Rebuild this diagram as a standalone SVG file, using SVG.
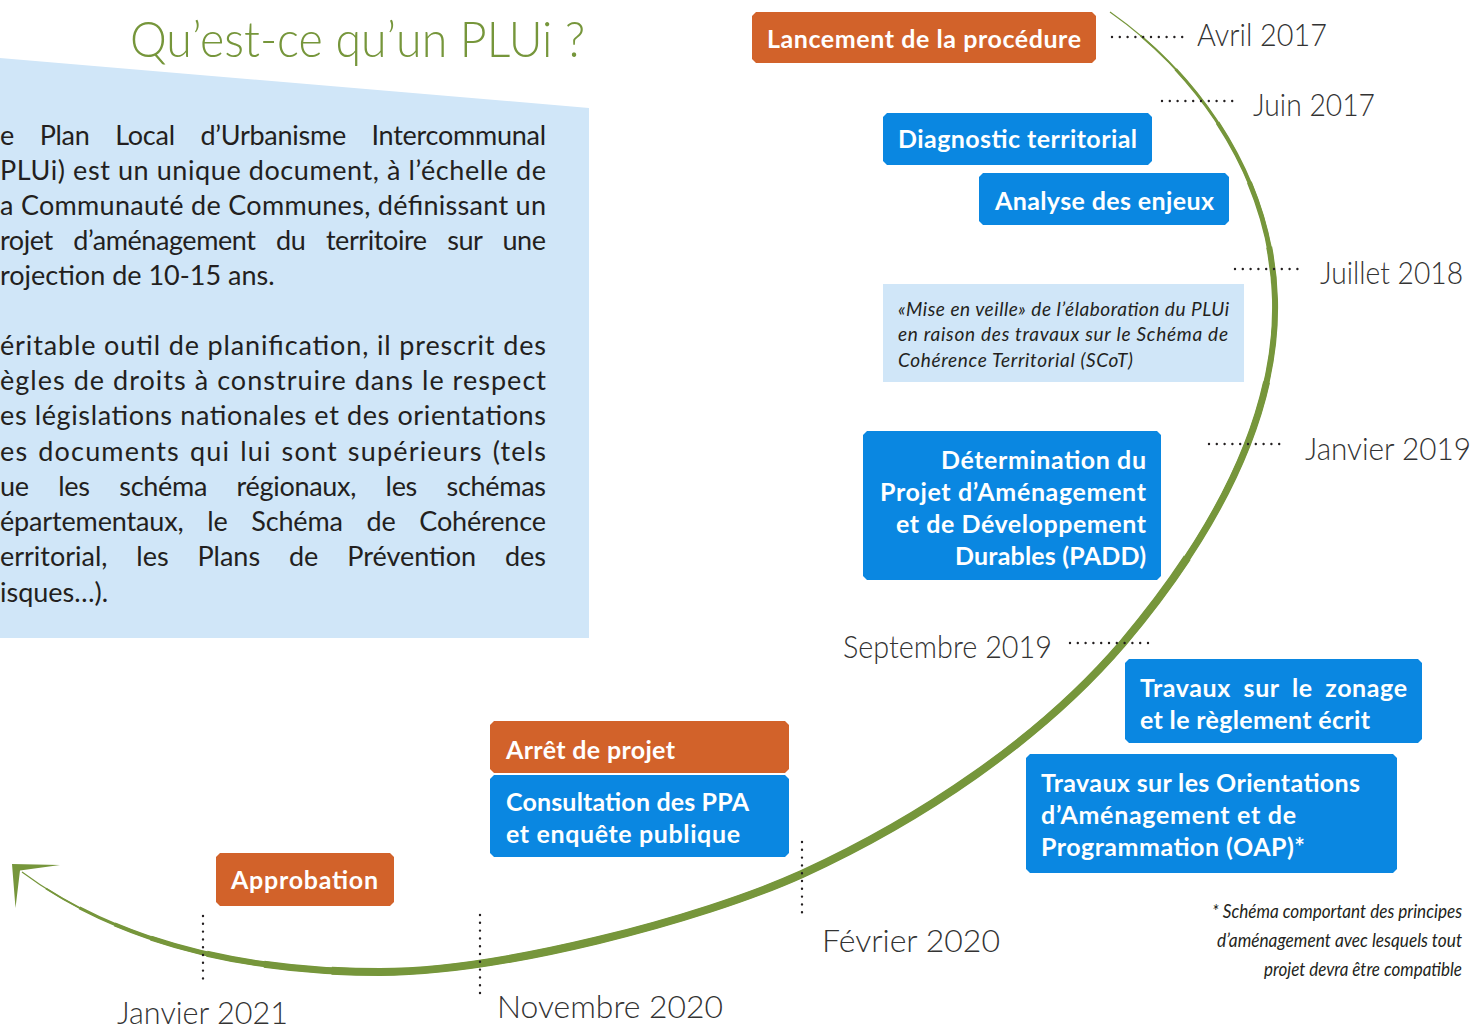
<svg xmlns="http://www.w3.org/2000/svg" width="1475" height="1026" viewBox="0 0 1475 1026">
<style>
.orange{fill:#D2622A}
.blue{fill:#0A87E1}
.pale{fill:#D0E6F8}
.lbl{font-family:Lato,"Open Sans",sans-serif;font-weight:700;font-size:25px;fill:#FFFFFF}
.body{font-family:Lato,"Liberation Sans",sans-serif;font-size:27px;fill:#231F20}
.ital{font-family:Lato,"Liberation Sans",sans-serif;font-style:italic;font-size:19px;fill:#231F20}
.note{font-family:Lato,"Liberation Sans",sans-serif;font-style:italic;font-size:20px;fill:#231F20}
.date{font-family:Lato,"Noto Sans",sans-serif;font-weight:300;font-size:31px;fill:#333333}
.title{font-family:Lato,"Noto Sans",sans-serif;font-weight:300;font-size:50px;fill:#76963B}
.dots{fill:none;stroke:#231F20;stroke-width:2.4;stroke-linecap:round;stroke-dasharray:0 7.8}
.curve{fill:none;stroke:#76963B;stroke-linecap:butt}
</style>
<defs>
<path id="arc" pathLength="1000" d="M1110,12 C1200,75 1272,180 1275,300 C1278,420 1210,540 1123,643 C1040,740 920,820 802,874 C700,920 500,972 380,972 C250,972 120,945 22,872"/>
</defs>

<g id="intro">
<polygon class="pale" points="0,58 589,108 589,638 0,638"/>
<text class="title" x="130" y="57" textLength="455" lengthAdjust="spacingAndGlyphs">Qu’est-ce qu’un PLUi ?</text>
<text class="body" x="0" y="145" textLength="546" lengthAdjust="spacing" word-spacing="19">e Plan Local d’Urbanisme Intercommunal</text>
<text class="body" x="0" y="180" textLength="546" lengthAdjust="spacing">PLUi) est un unique document, à l’échelle de</text>
<text class="body" x="0" y="215" textLength="546" lengthAdjust="spacing">a Communauté de Communes, définissant un</text>
<text class="body" x="0" y="250" textLength="546" lengthAdjust="spacing" word-spacing="14">rojet d’aménagement du territoire sur une</text>
<text class="body" x="0" y="285">rojection de 10-15 ans.</text>
<text class="body" x="0" y="355" textLength="546" lengthAdjust="spacing">éritable outil de planification, il prescrit des</text>
<text class="body" x="0" y="390" textLength="546" lengthAdjust="spacing">ègles de droits à construire dans le respect</text>
<text class="body" x="0" y="425" textLength="546" lengthAdjust="spacing">es législations nationales et des orientations</text>
<text class="body" x="0" y="461" textLength="546" lengthAdjust="spacing" word-spacing="2">es documents qui lui sont supérieurs (tels</text>
<text class="body" x="0" y="496" textLength="546" lengthAdjust="spacing" word-spacing="23">ue les schéma régionaux, les schémas</text>
<text class="body" x="0" y="531" textLength="546" lengthAdjust="spacing" word-spacing="17">épartementaux, le Schéma de Cohérence</text>
<text class="body" x="0" y="566" textLength="546" lengthAdjust="spacing" word-spacing="22">erritorial, les Plans de Prévention des</text>
<text class="body" x="0" y="602">isques…).</text>
</g>

<g id="connectors">
<use href="#arc" class="curve" stroke-width="1.2"/>
<use href="#arc" class="curve" stroke-width="2" stroke-dasharray="0 20 965 2000"/>
<use href="#arc" class="curve" stroke-width="3" stroke-dasharray="0 45 920 2000"/>
<use href="#arc" class="curve" stroke-width="4" stroke-dasharray="0 80 865 2000"/>
<use href="#arc" class="curve" stroke-width="5" stroke-dasharray="0 115 810 2000"/>
<use href="#arc" class="curve" stroke-width="6" stroke-dasharray="0 150 745 2000"/>
<use href="#arc" class="curve" stroke-width="7" stroke-dasharray="0 220 645 2000"/>
<use href="#arc" class="curve" stroke-width="8" stroke-dasharray="0 320 510 2000"/>
<path d="M12,864 L60,865 L20,870.5 L15.5,908 Z" fill="#76963B"/>
<line class="dots" x1="1112" y1="37" x2="1183" y2="37"/>
<line class="dots" x1="1162" y1="101" x2="1235" y2="101"/>
<line class="dots" x1="1235" y1="269" x2="1305" y2="269"/>
<line class="dots" x1="1209" y1="444" x2="1280" y2="444"/>
<line class="dots" x1="1070" y1="643" x2="1153" y2="643"/>
<line class="dots" x1="802" y1="842" x2="802" y2="920"/>
<line class="dots" x1="480" y1="915" x2="480" y2="997"/>
<line class="dots" x1="203" y1="916" x2="203" y2="986"/>
</g>

<g id="dates">
<text class="date" x="1197" y="46" textLength="130" lengthAdjust="spacingAndGlyphs">Avril 2017</text>
<text class="date" x="1253" y="116" textLength="122" lengthAdjust="spacingAndGlyphs">Juin 2017</text>
<text class="date" x="1320" y="284" textLength="143" lengthAdjust="spacingAndGlyphs">Juillet 2018</text>
<text class="date" x="1305" y="460" textLength="166" lengthAdjust="spacingAndGlyphs">Janvier 2019</text>
<text class="date" x="843" y="658" textLength="209" lengthAdjust="spacingAndGlyphs">Septembre 2019</text>
<text class="date" x="822" y="952" textLength="178" lengthAdjust="spacingAndGlyphs">Février 2020</text>
<text class="date" x="497" y="1018" textLength="226" lengthAdjust="spacingAndGlyphs">Novembre 2020</text>
<text class="date" x="117" y="1024" textLength="171" lengthAdjust="spacingAndGlyphs">Janvier 2021</text>
</g>

<g id="lancement">
<polygon class="orange" points="756,12 1092,12 1096,16 1096,59 1092,63 756,63 752,59 752,16"/>
<text class="lbl" x="767" y="48" textLength="314" lengthAdjust="spacing">Lancement de la procédure</text>
</g>
<g id="diagnostic">
<polygon class="blue" points="887,113 1148,113 1152,117 1152,161 1148,165 887,165 883,161 883,117"/>
<text class="lbl" x="898" y="148" textLength="239" lengthAdjust="spacing">Diagnostic territorial</text>
</g>
<g id="enjeux">
<polygon class="blue" points="983,173 1225,173 1229,177 1229,221 1225,225 983,225 979,221 979,177"/>
<text class="lbl" x="995" y="210" textLength="219" lengthAdjust="spacing">Analyse des enjeux</text>
</g>
<g id="veille">
<rect class="pale" x="883" y="284" width="361" height="98"/>
<text class="ital" x="898" y="316" textLength="331" lengthAdjust="spacing">«Mise en veille» de l’élaboration du PLUi</text>
<text class="ital" x="898" y="341" textLength="330" lengthAdjust="spacing">en raison des travaux sur le Schéma de</text>
<text class="ital" x="898" y="367" textLength="235" lengthAdjust="spacing">Cohérence Territorial (SCoT)</text>
</g>
<g id="padd">
<polygon class="blue" points="867,431 1157,431 1161,435 1161,576 1157,580 867,580 863,576 863,435"/>
<text class="lbl" x="1146" y="469" text-anchor="end" textLength="205" lengthAdjust="spacing">Détermination du</text>
<text class="lbl" x="1146" y="501" text-anchor="end" textLength="266" lengthAdjust="spacing">Projet d’Aménagement</text>
<text class="lbl" x="1146" y="533" text-anchor="end" textLength="250" lengthAdjust="spacing">et de Développement</text>
<text class="lbl" x="1146" y="565" text-anchor="end" textLength="191" lengthAdjust="spacing">Durables (PADD)</text>
</g>
<g id="zonage">
<polygon class="blue" points="1129,659 1418,659 1422,663 1422,739 1418,743 1129,743 1125,739 1125,663"/>
<text class="lbl" x="1140" y="697" textLength="267" lengthAdjust="spacing" word-spacing="6">Travaux sur le zonage</text>
<text class="lbl" x="1140" y="729" textLength="230" lengthAdjust="spacing">et le règlement écrit</text>
</g>
<g id="oap">
<polygon class="blue" points="1030,754 1393,754 1397,758 1397,869 1393,873 1030,873 1026,869 1026,758"/>
<text class="lbl" x="1041" y="792" textLength="319" lengthAdjust="spacing">Travaux sur les Orientations</text>
<text class="lbl" x="1041" y="824" textLength="255" lengthAdjust="spacing">d’Aménagement et de</text>
<text class="lbl" x="1041" y="856" textLength="264" lengthAdjust="spacing">Programmation (OAP)*</text>
</g>
<g id="arret">
<polygon class="orange" points="494,721 785,721 789,725 789,769 785,773 494,773 490,769 490,725"/>
<text class="lbl" x="506" y="759" textLength="169" lengthAdjust="spacing">Arrêt de projet</text>
</g>
<g id="consultation">
<polygon class="blue" points="494,775 785,775 789,779 789,853 785,857 494,857 490,853 490,779"/>
<text class="lbl" x="506" y="811" textLength="243" lengthAdjust="spacing">Consultation des PPA</text>
<text class="lbl" x="506" y="843" textLength="234" lengthAdjust="spacing">et enquête publique</text>
</g>
<g id="approbation">
<polygon class="orange" points="220,853 390,853 394,857 394,902 390,906 220,906 216,902 216,857"/>
<text class="lbl" x="231" y="889" textLength="147" lengthAdjust="spacing">Approbation</text>
</g>
<g id="footnote">
<text class="note" x="1462" y="918" text-anchor="end" textLength="250" lengthAdjust="spacingAndGlyphs">* Schéma comportant des principes</text>
<text class="note" x="1462" y="947" text-anchor="end" textLength="245" lengthAdjust="spacingAndGlyphs">d’aménagement avec lesquels tout</text>
<text class="note" x="1462" y="976" text-anchor="end" textLength="198" lengthAdjust="spacingAndGlyphs">projet devra être compatible</text>
</g>
</svg>
